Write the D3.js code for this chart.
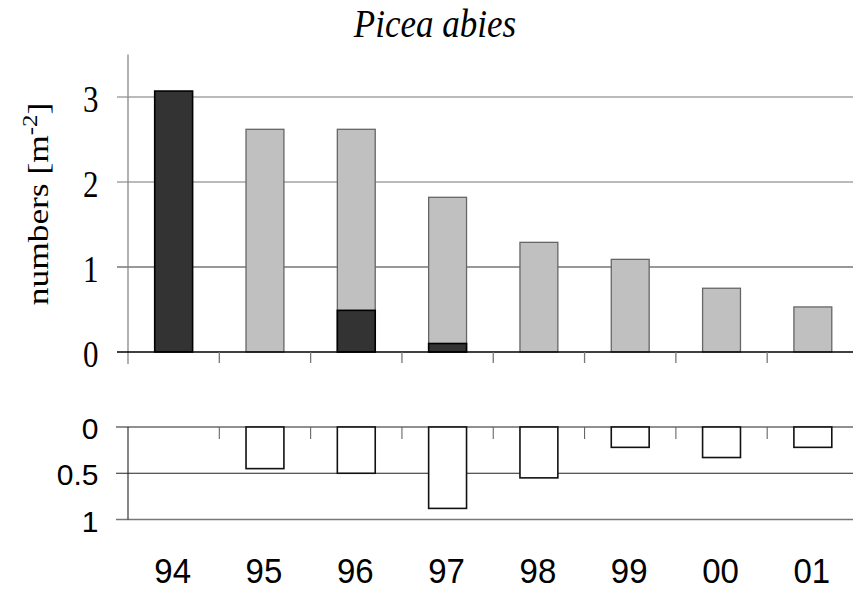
<!DOCTYPE html>
<html>
<head>
<meta charset="utf-8">
<script src="https://cdn.jsdelivr.net/npm/d3@7"></script>
<style>
  html, body { margin: 0; padding: 0; background: #fff; }
  svg { display: block; }
</style>
</head>
<body>
<svg id="chart" width="853" height="589"></svg>
<script>
// ---- data ----
const years = ["94", "95", "96", "97", "98", "99", "00", "01"];
const lightValues = [0, 2.62, 2.62, 1.82, 1.29, 1.09, 0.75, 0.53];
const darkValues = [3.07, 0, 0.49, 0.10, 0, 0, 0, 0];
const lowerValues = [0, 0.45, 0.5, 0.88, 0.55, 0.22, 0.33, 0.22];
const topTicks = [0, 1, 2, 3];
const bottomTicks = [0, 0.5, 1];
const bottomTickLabels = ["0", "0.5", "1"];
const titleText = "Picea abies";

// ---- layout ----
const svg = d3.select("#chart");
const W = 853;
const serif = "'Liberation Serif', 'Times New Roman', serif";
const sans = "'Liberation Sans', Arial, sans-serif";
const x = d3.scaleBand().domain(years).range([128, 858.5]).paddingInner(0).paddingOuter(0);
const barW = x.bandwidth() * 0.415;
const barX = d => x(d) + (x.bandwidth() - barW) / 2;

const yTop = d3.scaleLinear().domain([0, 3.5]).range([352, 54.5]);
const yBot = d3.scaleLinear().domain([0, 1]).range([427, 519.5]);

// title
svg.append("text")
  .attr("transform", "translate(435,36.5) scale(1,1.15)")
  .attr("text-anchor", "middle")
  .attr("font-family", serif)
  .attr("font-style", "italic")
  .attr("font-size", 35)
  .text(titleText);

// ---- top panel ----
const gTop = svg.append("g");
gTop.selectAll("line.grid").data(topTicks.filter(t => t > 0)).join("line")
  .attr("x1", 117).attr("x2", W)
  .attr("y1", d => yTop(d)).attr("y2", d => yTop(d))
  .attr("stroke", d => d === 1 ? "#333" : "#777").attr("stroke-width", 1.2);
gTop.append("line").attr("x1", 128).attr("x2", 128)
  .attr("y1", yTop(3.5)).attr("y2", 364)
  .attr("stroke", "#888").attr("stroke-width", 1.3);
gTop.selectAll("text.yl").data(topTicks).join("text")
  .attr("transform", d => `translate(98.5,${yTop(d) + 14.5}) scale(1,1.2)`)
  .attr("text-anchor", "end")
  .attr("font-family", serif)
  .attr("font-size", 31)
  .text(d => d);
gTop.append("text")
  .attr("transform", "translate(47.5,204) rotate(-90) scale(1.18,1)")
  .attr("text-anchor", "middle")
  .attr("font-family", serif)
  .attr("font-size", 30)
  .call(t => {
    t.append("tspan").text("numbers [m");
    t.append("tspan").attr("dy", -11).attr("font-size", 21).text("-2");
    t.append("tspan").attr("dy", 11).text("]");
  });
gTop.selectAll("rect.light").data(years.map((y, i) => ({ y, v: lightValues[i] })).filter(d => d.v > 0)).join("rect")
  .attr("x", d => barX(d.y)).attr("width", barW)
  .attr("y", d => yTop(d.v)).attr("height", d => yTop(0) - yTop(d.v))
  .attr("fill", "#c0c0c0").attr("stroke", "#666").attr("stroke-width", 1.3);
gTop.selectAll("rect.dark").data(years.map((y, i) => ({ y, v: darkValues[i] })).filter(d => d.v > 0)).join("rect")
  .attr("x", d => barX(d.y)).attr("width", barW)
  .attr("y", d => yTop(d.v)).attr("height", d => yTop(0) - yTop(d.v))
  .attr("fill", "#333333").attr("stroke", "#000").attr("stroke-width", 1.6);
gTop.append("line").attr("x1", 117).attr("x2", W)
  .attr("y1", yTop(0)).attr("y2", yTop(0))
  .attr("stroke", "#000").attr("stroke-width", 1.4);
gTop.selectAll("line.xt").data(years.slice(1)).join("line")
  .attr("x1", d => x(d)).attr("x2", d => x(d))
  .attr("y1", yTop(0)).attr("y2", yTop(0) + 11)
  .attr("stroke", "#777").attr("stroke-width", 1.3);

// ---- bottom panel ----
const gBot = svg.append("g");
gBot.selectAll("line.grid").data(bottomTicks).join("line")
  .attr("x1", 116).attr("x2", W)
  .attr("y1", d => yBot(d)).attr("y2", d => yBot(d))
  .attr("stroke", d => d === 1 ? "#777" : "#222").attr("stroke-width", d => d === 1 ? 1.6 : 1.1);
gBot.append("line").attr("x1", 128).attr("x2", 128)
  .attr("y1", yBot(0)).attr("y2", yBot(1))
  .attr("stroke", "#222").attr("stroke-width", 1.1);
gBot.selectAll("line.xt").data(years.slice(1)).join("line")
  .attr("x1", d => x(d)).attr("x2", d => x(d))
  .attr("y1", yBot(0)).attr("y2", yBot(0) + 12)
  .attr("stroke", "#666").attr("stroke-width", 1.1);
gBot.selectAll("rect.low").data(years.map((y, i) => ({ y, v: lowerValues[i] })).filter(d => d.v > 0)).join("rect")
  .attr("x", d => barX(d.y)).attr("width", barW)
  .attr("y", yBot(0)).attr("height", d => yBot(d.v) - yBot(0))
  .attr("fill", "#fff").attr("stroke", "#111").attr("stroke-width", 1.6);
gBot.selectAll("text.yl").data(bottomTicks).join("text")
  .attr("x", 98.5).attr("y", d => yBot(d) + 12)
  .attr("text-anchor", "end")
  .attr("font-family", sans)
  .attr("font-size", 30)
  .text((d, i) => bottomTickLabels[i]);
svg.selectAll("text.xl").data(years).join("text")
  .attr("transform", d => `translate(${x(d) + x.bandwidth() / 2 - 1},583) scale(1,1.06)`)
  .attr("text-anchor", "middle")
  .attr("font-family", sans)
  .attr("font-size", 33)
  .text(d => d);
</script>
</body>
</html>
